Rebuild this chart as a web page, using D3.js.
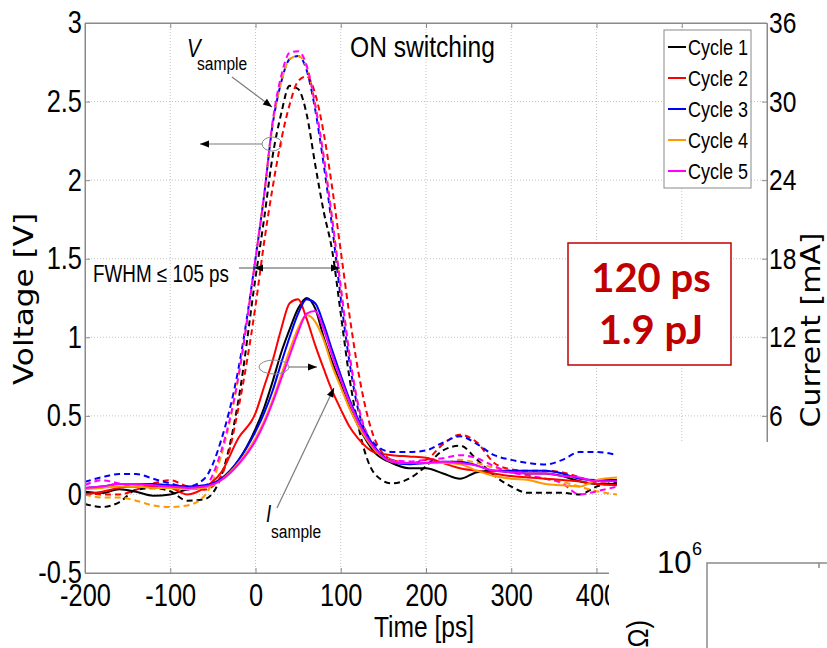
<!DOCTYPE html>
<html>
<head>
<meta charset="utf-8">
<script src="https://cdn.jsdelivr.net/npm/d3@7"></script>
<style>
  body { margin: 0; background: #fff; }
  svg text { font-family: "Liberation Sans", Arial, sans-serif; }
</style>
</head>
<body>
<svg id="chart" width="827" height="648"></svg>
<script>
// time grid [ps]
let times = [-200,-180,-160,-140,-120,-100,-80,-60,-40,-20,0,10,20,30,40,50,60,70,80,90,100,110,120,140,160,180,200,220,240,260,280,300,320,340,360,380,400,424];

let cycles = ["Cycle 1", "Cycle 2", "Cycle 3", "Cycle 4", "Cycle 5"];
let colors = ["#000000", "#ff0000", "#0000ff", "#ff9900", "#ff00ff"];

// V_sample [V] (dashed)
let vCycle1 = [-0.06,-0.08,-0.05,0.03,0.04,0.02,-0.04,-0.03,0.12,0.6, 1.38,1.75,2.15,2.42,2.6,2.58,2.42,2.1,1.8,1.55, 1.15,0.75,0.45,0.13,0.07,0.1,0.18,0.28,0.31,0.22, 0.12,0.05,0.01,0.01,0.01,0.0,0.05,0.08];
let vCycle2 = [0.01,0.0,0.0,0.03,0.07,0.09,0.05,0.03,0.12,0.55, 1.2,1.6,1.95,2.25,2.48,2.63,2.66,2.55,2.3,1.95, 1.55,1.15,0.8,0.35,0.22,0.2,0.22,0.32,0.38,0.33, 0.2,0.16,0.15,0.15,0.14,0.11,0.08,0.09];
let vCycle3 = [0.08,0.11,0.13,0.13,0.1,0.07,0.05,0.1,0.35,0.8, 1.5,1.9,2.35,2.62,2.77,2.79,2.7,2.45,2.1,1.7, 1.25,0.85,0.55,0.32,0.27,0.27,0.28,0.33,0.37,0.32, 0.25,0.22,0.2,0.19,0.22,0.27,0.27,0.25];
let vCycle4 = [0.0,-0.02,-0.02,-0.04,-0.07,-0.08,-0.07,-0.01,0.25,0.75, 1.5,1.9,2.35,2.62,2.77,2.79,2.72,2.48,2.15,1.75, 1.32,0.9,0.58,0.3,0.22,0.2,0.2,0.2,0.22,0.2, 0.17,0.15,0.12,0.1,0.08,0.05,0.02,0.0];
let vCycle5 = [0.06,0.09,0.07,0.05,0.05,0.04,0.03,0.05,0.28,0.75, 1.5,1.9,2.37,2.66,2.81,2.82,2.73,2.48,2.15,1.75, 1.32,0.9,0.58,0.3,0.22,0.21,0.22,0.23,0.25,0.23, 0.18,0.14,0.12,0.1,0.07,0.0,0.02,0.05];

// I_sample [mA] (solid)
let iCycle1 = [0.2,0.1,0.4,0.2,-0.1,0,0.4,0.6,1.2,2.6, 5.0,6.6,8.6,10.8,12.6,14.2,15.0,14.2,12.0,10.1, 8.4,6.7,5.3,3.2,2.4,2.0,2.0,1.6,1.2,1.7, 1.8,1.7,1.6,1.6,1.4,1.0,0.8,0.8];
let iCycle2 = [0,0.2,0.5,0.6,0.6,0.5,0,0.5,1.7,4.3, 6.2,8.2,10.2,12.6,14.6,14.9,13.4,11.4,9.6,7.9, 6.5,5.2,4.3,3.2,3.0,2.9,2.8,2.4,2.0,1.8, 1.6,1.4,1.3,1.2,1.1,1.0,0.8,0.7];
let iCycle3 = [0.5,0.6,0.8,0.8,0.8,0.7,0.6,0.7,1.2,2.6, 4.8,6.2,7.9,10.0,12.0,13.8,14.9,14.6,13.0,11.0, 9.1,7.3,5.8,3.6,2.5,2.3,2.4,2.5,2.5,2.2, 1.8,1.8,1.8,1.8,1.6,1.2,1.1,1.1];
let iCycle4 = [0.4,0.5,0.6,0.6,0.5,0.5,0.4,0.5,1.1,2.4, 4.3,5.6,7.2,9.1,11.0,12.7,13.7,13.2,11.8,9.8, 8.2,6.6,5.3,3.4,2.5,2.4,2.4,2.4,2.3,1.8, 1.4,1.2,1.1,0.8,0.7,0.6,1.1,1.3];
let iCycle5 = [0.5,0.6,0.8,0.8,0.7,0.6,0.5,0.6,1.1,2.3, 4.1,5.4,7.0,8.8,10.6,12.4,13.8,14.0,12.6,10.6, 8.8,7.1,5.6,3.5,2.5,2.4,2.4,2.5,2.4,2.2, 1.8,1.7,1.6,1.6,1.4,1.3,1.0,1.0];

let gridTimes = [-100,0,100,200,300,400,500];
let xTicks = [-200,-100,0,100,200,300,400];
let yTicks = [-0.5,0,0.5,1,1.5,2,2.5,3];
let yRightTicks = [6,12,18,24,30,36];

let voltages = [vCycle1, vCycle2, vCycle3, vCycle4, vCycle5];
let currents = [iCycle1, iCycle2, iCycle3, iCycle4, iCycle5];

let plotL = 85, plotR = 767, plotT = 23, plotB = 573;
let squeeze = 0.82;   // matlab text is horizontally condensed

let svg = d3.select("#chart");

let x = d3.scaleLinear().domain([-200, 600]).range([plotL, plotR]);
let y = d3.scaleLinear().domain([-0.5, 3]).range([plotB, plotT]);
let yR = d3.scaleLinear().domain([-6, 36]).range([plotB, plotT]);

function narrowText(px, py, size, str, anchor) {
  return svg.append("text")
    .attr("transform", `translate(${px},${py}) scale(${squeeze},1)`)
    .attr("text-anchor", anchor || "start")
    .attr("font-size", size).text(str);
}

// grid
let grid = svg.append("g").attr("stroke", "#c4c4c4").attr("stroke-dasharray", "1,2");
grid.selectAll(".gx").data(gridTimes).enter().append("line")
  .attr("x1", d => x(d)).attr("x2", d => x(d)).attr("y1", plotT).attr("y2", plotB);
grid.selectAll(".gy").data(yTicks.slice(1, -1)).enter().append("line")
  .attr("x1", plotL).attr("x2", plotR).attr("y1", d => y(d)).attr("y2", d => y(d));

// curves
svg.append("clipPath").attr("id", "plotclip").append("rect")
  .attr("x", plotL).attr("y", plotT).attr("width", plotR - plotL).attr("height", plotB - plotT);
let plot = svg.append("g").attr("clip-path", "url(#plotclip)");

let vLine = d3.line().x((d, i) => x(times[i])).y(d => y(d)).curve(d3.curveMonotoneX);
let iLine = d3.line().x((d, i) => x(times[i])).y(d => yR(d)).curve(d3.curveMonotoneX);

plot.selectAll(".vline").data(voltages).enter().append("path")
  .attr("d", vLine).attr("fill", "none")
  .attr("stroke", (d, i) => colors[i]).attr("stroke-width", 2)
  .attr("stroke-dasharray", "6,4");
plot.selectAll(".iline").data(currents).enter().append("path")
  .attr("d", iLine).attr("fill", "none")
  .attr("stroke", (d, i) => colors[i]).attr("stroke-width", 2);

// axes
function styleAxis(g, size) {
  g.attr("font-family", null).attr("font-size", size);
  g.select(".domain").attr("stroke", "#8a8a8a");
  g.selectAll(".tick line").attr("stroke", "#8a8a8a");
  g.selectAll(".tick text").attr("fill", "#000").each(function () {
    let t = d3.select(this);
    t.attr("x", (+t.attr("x") || 0) / squeeze).attr("transform", `scale(${squeeze},1)`);
  });
}
let fmt = d => String(d);

// full frame lines
svg.append("path").attr("d", `M${plotL},${plotB}V${plotT}H${plotR}V${plotB}H${plotL}`)
  .attr("fill", "none").attr("stroke", "#8a8a8a");

svg.append("g").attr("transform", `translate(0,${plotB})`)
  .call(d3.axisBottom(x).tickValues(xTicks).tickFormat(fmt).tickSize(-5).tickSizeOuter(0).tickPadding(11))
  .call(g => styleAxis(g, 31));
svg.append("g").attr("transform", `translate(0,${plotT})`)
  .call(d3.axisTop(x).tickValues(gridTimes).tickFormat("").tickSize(-5).tickSizeOuter(0))
  .call(g => styleAxis(g, 31));
svg.append("g").attr("transform", `translate(${plotL},0)`)
  .call(d3.axisLeft(y).tickValues(yTicks).tickFormat(fmt).tickSize(-5).tickSizeOuter(0).tickPadding(3))
  .call(g => styleAxis(g, 31));
svg.append("g").attr("transform", `translate(${plotR},0)`)
  .call(d3.axisRight(yR).tickValues(yRightTicks).tickFormat(fmt).tickSize(-5).tickSizeOuter(0).tickPadding(2))
  .call(g => styleAxis(g, 30));

// axis titles
narrowText(424, 637, 30, "Time [ps]", "middle");
svg.append("text").attr("transform", "translate(33,299) rotate(-90)").attr("text-anchor", "middle")
  .style("font-family", "'DejaVu Sans', sans-serif").attr("font-size", 27)
  .attr("textLength", 172).attr("lengthAdjust", "spacingAndGlyphs").text("Voltage [V]");
svg.append("text").attr("transform", "translate(820,330) rotate(-90)").attr("text-anchor", "middle")
  .style("font-family", "'DejaVu Sans', sans-serif").attr("font-size", 26)
  .attr("textLength", 195).attr("lengthAdjust", "spacingAndGlyphs").text("Current [mA]");

narrowText(350, 57, 30, "ON switching");

// legend
let legend = svg.append("g");
legend.append("rect").attr("x", 664).attr("y", 30).attr("width", 87).attr("height", 158)
  .attr("fill", "#fff").attr("stroke", "#8a8a8a");
cycles.forEach(function (c, i) {
  let ly = 47 + i * 31;
  legend.append("line").attr("x1", 668).attr("x2", 686).attr("y1", ly).attr("y2", ly)
    .attr("stroke", colors[i]).attr("stroke-width", 2);
  narrowText(688, ly + 8, 22, c);
});

// annotations
function arrowHead(tx, ty, fx, fy) {
  let a = Math.atan2(ty - fy, tx - fx), L = 9, W = 3.5;
  let bx = tx - L * Math.cos(a), by = ty - L * Math.sin(a);
  let px = -Math.sin(a) * W, py = Math.cos(a) * W;
  svg.append("path").attr("d", `M${tx},${ty}L${bx + px},${by + py}L${bx - px},${by - py}Z`).attr("fill", "#000");
}
function pointer(fx, fy, tx, ty) {
  svg.append("line").attr("x1", fx).attr("y1", fy).attr("x2", tx).attr("y2", ty)
    .attr("stroke", "#7a7a7a").attr("stroke-width", 1.2);
  arrowHead(tx, ty, fx, fy);
}

// V_sample
narrowText(187, 57, 25, "V").attr("font-style", "italic");
narrowText(197, 70, 19, "sample");
pointer(232, 77, 272, 107);
svg.append("ellipse").attr("cx", 272).attr("cy", 144).attr("rx", 10).attr("ry", 7)
  .attr("fill", "none").attr("stroke", "#8a8a8a");
pointer(262, 144, 200, 144);

// FWHM
narrowText(93, 282, 23, "FWHM \u2264 105 ps");
svg.append("line").attr("x1", 239).attr("x2", 340).attr("y1", 268).attr("y2", 268)
  .attr("stroke", "#555").attr("stroke-width", 1.2);
arrowHead(254, 268, 270, 268);
arrowHead(340, 268, 320, 268);

// I_sample
svg.append("ellipse").attr("cx", 274).attr("cy", 367).attr("rx", 15).attr("ry", 7)
  .attr("fill", "none").attr("stroke", "#8a8a8a");
pointer(289, 367, 317, 367);
pointer(277, 508, 334, 388);
narrowText(266, 522, 23, "I").attr("font-style", "italic");
narrowText(271, 538, 19, "sample");

// red box
svg.append("rect").attr("x", 568).attr("y", 243).attr("width", 163).attr("height", 122)
  .attr("fill", "#fff").attr("stroke", "#c00000").attr("stroke-width", 1.5);
svg.append("text").attr("x", 651).attr("y", 292).attr("text-anchor", "middle")
  .style("font-family", "Lato, sans-serif").attr("font-weight", "bold").attr("font-size", 40)
  .attr("fill", "#c00000").text("120 ps");
svg.append("text").attr("x", 651).attr("y", 344).attr("text-anchor", "middle")
  .style("font-family", "Lato, sans-serif").attr("font-weight", "bold").attr("font-size", 40)
  .attr("fill", "#c00000").text("1.9 pJ");

// neighbouring panel overlapping the lower right corner
svg.append("rect").attr("x", 617).attr("y", 442).attr("width", 210).attr("height", 206).attr("fill", "#fff");
svg.append("rect").attr("x", 609).attr("y", 565).attr("width", 10).attr("height", 83).attr("fill", "#fff");
svg.append("path").attr("d", "M707,648V563H827M819,563V568").attr("fill", "none")
  .attr("stroke", "#8a8a8a").attr("stroke-width", 1.5);
svg.append("text").attr("x", 657).attr("y", 573).attr("font-size", 31).text("10");
svg.append("text").attr("x", 692).attr("y", 555).attr("font-size", 18).text("6");
svg.append("text").attr("transform", "translate(648,620) rotate(-90) scale(0.85,1)").attr("text-anchor", "end")
  .attr("font-size", 30).text("R (\u03a9)");
</script>
</body>
</html>
